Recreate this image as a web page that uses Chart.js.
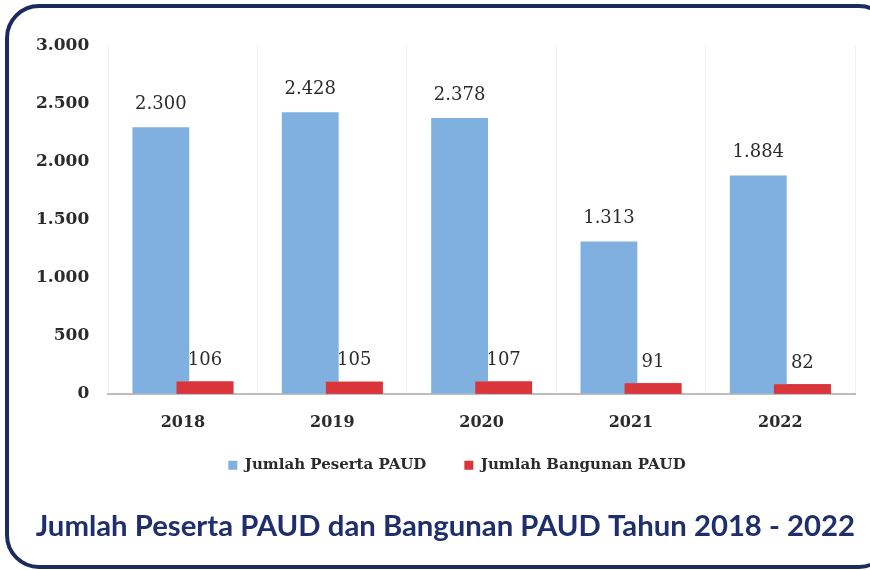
<!DOCTYPE html>
<html>
<head>
<meta charset="utf-8">
<script src="https://cdn.jsdelivr.net/npm/chart.js@4"></script>
<style>
  html, body { margin: 0; padding: 0; background: #fff; overflow: hidden; }
  .frame {
    position: absolute; left: 5px; top: 4px; width: 880px; height: 557px;
    border: 4px solid #1c2b5f; border-radius: 34px;
  }
  .wrap { position: absolute; left: 0; top: 0; width: 870px; height: 570px; }
</style>
</head>
<body>
<div class="frame"></div>
<div class="wrap"><canvas id="chart" width="870" height="570"></canvas></div>
<script>
// data
var years = ['2018', '2019', '2020', '2021', '2022'];
var pesertaPaud = [2300, 2428, 2378, 1313, 1884];
var bangunanPaud = [106, 105, 107, 91, 82];
var yTicks = [0, 500, 1000, 1500, 2000, 2500, 3000];
var chartTitle = 'Jumlah Peserta PAUD dan Bangunan PAUD Tahun 2018 - 2022';

function fmt(v) {
    return String(v).replace(/\B(?=(\d{3})+(?!\d))/g, '.');
}

// value labels above the bars; the red bars are drawn again so they sit on top of the blue
var barLabels = {
    id: 'barLabels',
    afterLayout: function (chart) {
        // x axis box is squeezed in afterFit, let its labels draw past it
        chart.scales.x.bottom = chart.scales.x.top + 50;
        // legend sits a bit right of the canvas centre in the original
        chart.legend.left += 21;
        chart.legend.right += 21;
    },
    afterDatasetsDraw: function (chart) {
        var ctx = chart.ctx;
        chart.getDatasetMeta(1).controller.draw();
        ctx.save();
        ctx.font = '18px "DejaVu Serif"';
        ctx.fillStyle = '#2b2b2b';
        ctx.textAlign = 'center';
        ctx.textBaseline = 'middle';
        chart.data.datasets.forEach(function (ds, i) {
            var meta = chart.getDatasetMeta(i);
            meta.data.forEach(function (bar, j) {
                ctx.fillText(fmt(ds.data[j]), bar.x, bar.y - (i === 0 ? 23 : 21));
            });
        });
        ctx.restore();
    }
};

var ctx = document.getElementById('chart').getContext('2d');

new Chart(ctx, {
    type: 'bar',
    data: {
        labels: years,
        datasets: [{
            label: 'Jumlah Peserta PAUD',
            data: pesertaPaud,
            backgroundColor: '#7fb0df'
        }, {
            label: 'Jumlah Bangunan PAUD',
            data: bangunanPaud,
            backgroundColor: '#d9353b'
        }]
    },
    options: {
        responsive: false,
        animation: false,
        devicePixelRatio: 1,
        categoryPercentage: 0.59,
        barPercentage: 1.29,
        layout: { padding: { left: 17, right: 15, top: 46, bottom: 26 } },
        scales: {
            x: {
                afterFit: function (scale) { scale.height = 26; },
                grid: { color: '#eef2f7', drawTicks: false },
                border: { color: '#bdbdbd', width: 2 },
                ticks: {
                    padding: 19,
                    color: '#2b2b2b',
                    font: { family: 'DejaVu Serif', size: 16, weight: 'bold' }
                }
            },
            y: {
                min: 0,
                max: 3000,
                afterBuildTicks: function (axis) {
                    axis.ticks = yTicks.map(function (v) { return { value: v }; });
                },
                grid: { display: false, drawTicks: false },
                border: { display: false },
                ticks: {
                    padding: 19,
                    color: '#2b2b2b',
                    font: { family: 'DejaVu Serif', size: 17, weight: 'bold' },
                    callback: function (v) { return fmt(v); }
                }
            }
        },
        plugins: {
            legend: {
                position: 'bottom',
                labels: {
                    boxWidth: 9,
                    boxHeight: 9,
                    padding: 38,
                    color: '#2b2b2b',
                    font: { family: 'DejaVu Serif', size: 15, weight: 'bold' }
                }
            },
            title: {
                display: true,
                position: 'bottom',
                align: 'end',
                text: chartTitle,
                color: '#1f2e6c',
                padding: { top: 26, bottom: 0 },
                font: { family: 'Lato', size: 29.3, weight: 'bold' }
            },
            tooltip: { enabled: false }
        }
    },
    plugins: [barLabels]
});
</script>
</body>
</html>
